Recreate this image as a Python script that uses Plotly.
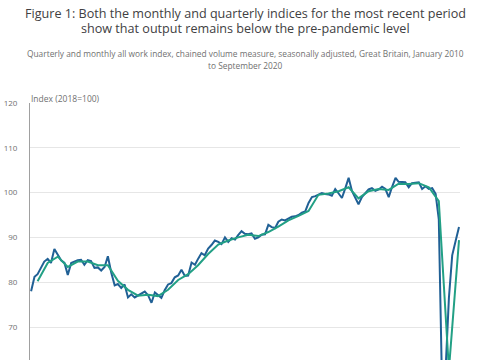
import pandas as pd
import plotly.graph_objects as go

# ---------------- data ----------------
monthly_dates = pd.date_range("2010-01-01", "2020-09-01", freq="MS")
monthly_values = [
    78.0, 81.2, 81.8, 83.4, 84.6, 85.2, 84.3, 87.4, 86.0, 84.9, 84.3, 81.6,   # 2010
    84.3, 84.7, 84.9, 85.0, 83.9, 84.9, 84.7, 83.2, 83.3, 82.6, 83.4, 85.8,   # 2011
    82.1, 79.3, 79.6, 78.7, 79.5, 76.6, 77.3, 76.6, 77.0, 77.5, 77.9, 77.1,   # 2012
    75.4, 77.7, 77.2, 76.5, 78.2, 79.5, 79.8, 81.1, 81.5, 82.8, 81.4, 81.5,   # 2013
    84.4, 83.9, 85.2, 86.5, 86.0, 87.5, 88.3, 89.3, 89.0, 88.5, 90.0, 89.0,   # 2014
    89.8, 89.5, 90.5, 91.4, 90.8, 90.7, 90.9, 89.7, 90.0, 90.6, 90.7, 92.8,   # 2015
    92.3, 92.1, 93.5, 94.0, 93.8, 94.3, 94.6, 94.7, 95.0, 95.5, 95.8, 97.7,   # 2016
    99.0, 99.2, 99.5, 99.9, 99.7, 99.6, 99.3, 100.8, 99.8, 98.8, 101.0, 103.3,  # 2017
    100.3, 98.7, 97.4, 99.0, 99.8, 100.7, 101.0, 100.4, 100.7, 101.3, 100.8, 99.0,  # 2018
    101.3, 103.3, 102.4, 102.3, 102.3, 101.2, 102.1, 102.2, 102.3, 100.8, 101.4, 100.8,  # 2019
    101.0, 99.7, 94.0, 55.0, 60.0, 76.5, 86.0, 89.2, 92.3,                    # 2020
]

quarterly_dates = pd.date_range("2010-03-01", "2020-09-01", freq="3MS")
quarterly_values = [
    80.2, 84.3, 85.7, 83.4,
    84.6, 84.6, 83.8, 83.8,
    80.3, 78.3, 77.0, 77.2,
    76.9, 78.3, 80.5, 81.8,
    83.8, 86.3, 88.4, 89.3,
    90.0, 90.6, 90.3, 91.2,
    92.4, 93.8, 94.8, 95.9,
    99.5, 99.8, 100.3, 101.2,
    98.7, 100.3, 100.8, 100.6,
    102.0, 101.9, 102.1, 101.2,
    98.1, 60.5, 89.4,
]

y_ticks = [70, 80, 90, 100, 110, 120]

title_lines = [
    "Figure 1: Both the monthly and quarterly indices for the most recent period",
    "show that output remains below the pre-pandemic level",
]
subtitle_lines = [
    "Quarterly and monthly all work index, chained volume measure, seasonally adjusted, Great Britain, January 2010",
    "to September 2020",
]
axis_title = "Index (2018=100)"

# ---------------- figure ----------------
W, H = 485, 360
TOP = 103
FONT = "Open Sans"

fig = go.Figure()
fig.add_trace(go.Scatter(
    x=monthly_dates, y=monthly_values, mode="lines", name="Monthly",
    line=dict(color="#206095", width=2), hoverinfo="skip"))
fig.add_trace(go.Scatter(
    x=quarterly_dates, y=quarterly_values, mode="lines", name="Quarterly",
    line=dict(color="#22a085", width=2), hoverinfo="skip"))

plot_h = H - TOP
def py(pix):
    return (H - pix) / plot_h

ann = []
for txt, yp in zip(title_lines, [13.5, 28.5]):
    ann.append(dict(text=txt, x=0.5, xref="paper", y=py(yp), yref="paper",
                    xanchor="center", yanchor="middle", showarrow=False,
                    font=dict(family=FONT, size=12.6, color="#414042")))
for txt, yp in zip(subtitle_lines, [53.5, 65.5]):
    ann.append(dict(text=txt, x=0.5, xref="paper", y=py(yp), yref="paper",
                    xanchor="center", yanchor="middle", showarrow=False,
                    font=dict(family=FONT, size=8.35, color="#707070")))
ann.append(dict(text=axis_title, x=0, xref="paper", y=py(98.5), yref="paper",
                xanchor="left", yanchor="middle", showarrow=False, xshift=-1,
                font=dict(family=FONT, size=8.5, color="#707070")))

ymin = 120 - (H - TOP) / 4.48
fig.update_layout(
    width=W, height=H,
    margin=dict(l=30, r=25, t=TOP, b=0, pad=0),
    paper_bgcolor="white", plot_bgcolor="white",
    showlegend=False,
    hovermode=False,
    annotations=ann,
    xaxis=dict(range=["2009-12-22", "2020-09-10"], showgrid=False, showline=False,
               zeroline=False, showticklabels=False, ticks=""),
    yaxis=dict(range=[ymin, 120], tickvals=y_ticks, showgrid=True, gridcolor="#e6e6e6",
               gridwidth=1, showline=True, linecolor="#a0a0a0", linewidth=1,
               zeroline=False, ticks="", ticklabelstandoff=10,
               tickfont=dict(family=FONT, size=8, color="#707070")),
)

fig.write_html("out.html", config={"displayModeBar": False},
               post_script="document.body.style.margin='0';")
